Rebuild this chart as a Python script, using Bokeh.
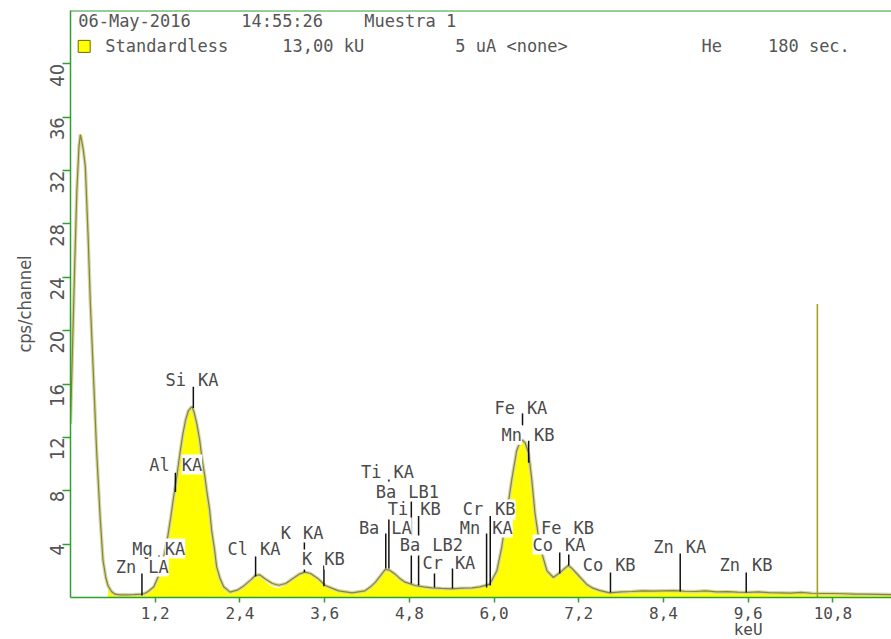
import numpy as np
from bokeh.plotting import figure
from bokeh.models import ColumnDataSource, FixedTicker, CustomJSTickFormatter, Span, Range1d
from bokeh.core.properties import value
from bokeh.embed import file_html
from bokeh.resources import INLINE

# ---------------- data ----------------
energy_keV = [0.00, 0.03, 0.06, 0.09, 0.12, 0.14, 0.16, 0.18, 0.21, 0.25,
              0.28, 0.33, 0.37, 0.42, 0.46, 0.50, 0.53, 0.58, 0.63, 0.70,
              0.80, 0.90, 1.00, 1.05, 1.10, 1.18, 1.27, 1.32, 1.37, 1.42,
              1.46, 1.51, 1.55, 1.59, 1.63, 1.67, 1.72, 1.75, 1.79, 1.83,
              1.86, 1.90, 1.93, 1.97, 2.00, 2.04, 2.07, 2.12, 2.17, 2.26,
              2.36, 2.45, 2.55, 2.62, 2.68, 2.76, 2.86, 2.95, 3.05, 3.15,
              3.24, 3.32, 3.40, 3.51, 3.61, 3.70, 3.80, 3.99, 4.17, 4.25,
              4.32, 4.40, 4.46, 4.52, 4.60, 4.67, 4.74, 4.88, 5.00, 5.12,
              5.26, 5.40, 5.55, 5.69, 5.80, 5.94, 6.04, 6.11, 6.18, 6.25,
              6.32, 6.37, 6.40, 6.44, 6.49, 6.535, 6.58, 6.65, 6.75, 6.84,
              6.94, 7.05, 7.10, 7.17, 7.31, 7.40, 7.50, 7.64, 7.80, 7.95,
              8.10, 8.25, 8.40, 8.55, 8.70, 8.85, 9.00, 9.15, 9.30, 9.45,
              9.60, 9.75, 9.90, 10.05, 10.20, 10.35, 10.50, 10.65, 10.80, 10.95,
              11.10, 11.25, 11.40, 11.63]

counts_cps = [13.0, 19.0, 25.0, 30.5, 33.8, 34.7, 34.2, 33.6, 32.3, 27.0,
              22.2, 16.0, 11.0, 6.0, 2.8, 1.5, 0.9, 0.45, 0.25, 0.2,
              0.2, 0.22, 0.25, 0.3, 0.45, 0.8, 1.9, 3.0, 4.3, 6.0,
              7.5, 9.2, 10.8, 12.2, 13.3, 14.0, 14.3, 13.9, 13.0, 11.8,
              10.5, 9.2, 8.0, 6.6, 5.0, 3.6, 2.3, 1.4, 0.8, 0.4,
              0.55, 0.85, 1.3, 1.6, 1.55, 1.2, 0.8, 0.7, 0.95, 1.35,
              1.75, 1.9, 1.8, 1.4, 0.9, 0.7, 0.5, 0.35, 0.5, 0.8,
              1.15, 1.7, 2.1, 2.05, 1.75, 1.4, 1.15, 0.9, 0.8, 0.72,
              0.68, 0.65, 0.7, 0.72, 0.8, 1.0, 2.0, 3.8, 6.3, 8.8,
              11.0, 11.7, 11.8, 11.6, 10.8, 8.8, 6.3, 3.8, 2.0, 1.5,
              1.9, 2.4, 2.2, 1.8, 1.0, 0.7, 0.52, 0.35, 0.42, 0.45,
              0.5, 0.48, 0.5, 0.52, 0.47, 0.45, 0.5, 0.42, 0.44, 0.4,
              0.38, 0.42, 0.36, 0.35, 0.33, 0.38, 0.32, 0.3, 0.3, 0.28,
              0.26, 0.25, 0.24, 0.22]

outline_cps = [13.0, 19.0, 25.0, 30.5, 33.8, 34.7, 34.2, 33.6, 32.3, 27.0,
               22.2, 16.0, 11.0, 6.0, 2.8, 1.5, 0.9, 0.45, 0.25, 0.2,
               0.2, 0.22, 0.25, 0.3, 0.45, 0.8, 1.9, 3.0, 4.3, 6.0,
               7.5, 9.2, 10.8, 12.2, 13.3, 14.0, 14.3, 13.9, 13.0, 11.8,
               10.5, 9.2, 8.0, 6.6, 5.0, 3.6, 2.3, 1.4, 0.8, 0.4,
               0.55, 0.85, 1.3, 1.65, 1.7, 1.38, 1.05, 0.92, 1.05, 1.42,
               1.75, 1.9, 1.8, 1.4, 0.9, 0.7, 0.5, 0.35, 0.5, 0.8,
               1.15, 1.7, 2.1, 2.05, 1.75, 1.4, 1.15, 0.9, 0.8, 0.72,
               0.68, 0.65, 0.7, 0.72, 0.8, 1.0, 2.0, 3.8, 6.3, 8.8,
               11.0, 11.7, 11.8, 11.6, 10.8, 8.8, 6.3, 3.8, 2.0, 1.5,
               1.9, 2.4, 2.2, 1.8, 1.0, 0.7, 0.52, 0.35, 0.42, 0.45,
               0.5, 0.48, 0.5, 0.52, 0.47, 0.45, 0.5, 0.42, 0.44, 0.4,
               0.38, 0.42, 0.36, 0.35, 0.33, 0.38, 0.32, 0.3, 0.3, 0.28,
               0.26, 0.25, 0.24, 0.22]

marker_element = ["Zn", "Mg", "Al", "Si", "Cl", "K", "K", "Ti", "Ba", "Ba", "Ti",
                  "Ba", "Cr", "Mn", "Cr", "Fe", "Mn", "Fe", "Co", "Co", "Zn", "Zn"]
marker_line = ["LA", "KA", "KA", "KA", "KA", "KA", "KB", "KA", "LB1", "LA", "KB",
               "LB2", "KA", "KA", "KB", "KA", "KB", "KB", "KA", "KB", "KA", "KB"]
marker_keV = [1.012, 1.254, 1.486, 1.740, 2.622, 3.313, 3.590, 4.510, 4.828, 4.466, 4.931,
              5.156, 5.411, 5.894, 5.946, 6.403, 6.490, 7.058, 6.930, 7.649, 8.637, 9.572]
marker_top = [1.8, 3.15, 9.36, 15.8, 3.07, 4.4, 2.4, 8.84, 7.5, 4.8, 6.1,
              3.5, 2.17, 4.8, 6.1, 13.8, 11.75, 4.64, 3.37, 1.87, 3.3, 1.87]
marker_bottom = [0.15, 1.7, 7.9, 14.2, 1.57, 1.9, 0.85, 2.17, 1.05, 2.17, 0.9,
                 0.75, 0.67, 0.75, 0.9, 12.9, 10.1, 2.4, 1.8, 0.37, 0.45, 0.37]

cursor_keV = 10.58
cursor_height = 22.0

x_ticks = [1.2, 2.4, 3.6, 4.8, 6.0, 7.2, 8.4, 9.6, 10.8]
y_ticks = [4, 8, 12, 16, 20, 24, 28, 32, 36, 40]

header_line1 = ["06-May-2016", "14:55:26", "Muestra 1"]
header_line2 = ["Standardless", "13,00 kU", "5 uA <none>", "He", "180 sec."]
x_title = "keU"
x_title_tick = 9.6
y_title = "cps/channel"

# ---------------- layout (positions of annotations) ----------------
label_x = [1.016, 1.25, 1.49, 1.72, 2.60, 3.21, 3.51, 4.49, 4.70, 4.46, 4.87,
           5.04, 5.36, 5.89, 5.93, 6.38, 6.48, 7.04, 6.92, 7.63, 8.63, 9.57]
label_y = [2.32, 3.67, 9.96, 16.3, 3.6, 4.87, 2.85, 9.4, 7.94, 5.24, 6.6,
           3.9, 2.55, 5.24, 6.6, 14.2, 12.2, 5.24, 3.97, 2.4, 3.75, 2.4]
h1_x = [0.109, 2.418, 4.16]
h2_x = [0.493, 3.0, 5.45, 8.94, 9.88]
h1_y = 43.22
h2_y = 41.31

GREEN = "#2f9f2f"
MONO = "DejaVu Sans Mono"
NARROW = "Liberation Sans Narrow, DejaVu Sans Condensed, Roboto, sans-serif"
TXT = "#4a4a4a"

p = figure(frame_width=821, frame_height=587,
           x_range=Range1d(0, 11.63), y_range=Range1d(0, 44),
           output_backend="svg", toolbar_location=None,
           min_border_left=70, min_border_right=0, min_border_top=10, min_border_bottom=40)
p.outline_line_color = None
p.grid.visible = False
p.background_fill_color = "white"
p.border_fill_color = "white"

xa = p.xaxis[0]
xa.ticker = FixedTicker(ticks=x_ticks)
xa.formatter = CustomJSTickFormatter(
    args=dict(title=x_title, at=x_title_tick),
    code="const s = tick.toFixed(1).replace('.', ',');"
         "return Math.abs(tick - at) < 1e-6 ? s + '\\n' + title : s;")
xa.axis_line_color = GREEN
xa.axis_line_width = 1.5
xa.major_tick_line_color = GREEN
xa.major_tick_line_width = 1.5
xa.major_tick_out = 5
xa.major_tick_in = 0
xa.minor_tick_line_color = None
xa.major_label_text_font = MONO
xa.major_label_text_font_size = "16px"
xa.major_label_text_line_height = 0.85
xa.major_label_text_color = TXT
xa.major_label_standoff = 1

ya = p.yaxis[0]
ya.ticker = FixedTicker(ticks=y_ticks)
ya.axis_line_color = GREEN
ya.axis_line_width = 1.5
ya.major_tick_line_color = GREEN
ya.major_tick_line_width = 1.5
ya.major_tick_out = 8
ya.major_tick_in = 0
ya.minor_tick_line_color = None
ya.major_label_orientation = np.pi / 2
ya.major_label_text_font = NARROW
ya.major_label_text_font_size = "20px"
ya.major_label_text_color = "#555555"
ya.major_label_standoff = 5
ya.axis_label = y_title
ya.axis_label_text_font = NARROW
ya.axis_label_text_font_size = "18px"
ya.axis_label_text_font_style = "normal"
ya.axis_label_text_color = "#555555"
ya.axis_label_standoff = 6

p.add_layout(Span(location=44, dimension="width", line_color=GREEN, line_width=2))

# spectrum fill and outline
e_arr = np.array(energy_keV)
c_arr = np.array(counts_cps)
mask = e_arr >= 0.53
fill_src = ColumnDataSource(dict(x=e_arr[mask], y=c_arr[mask]))
p.varea(x="x", y1=0, y2="y", source=fill_src, fill_color="#ffff00")
p.line(energy_keV, outline_cps, line_color="#d4d4bc", line_width=3.5)
p.line(energy_keV, outline_cps, line_color="#8a8a14", line_width=1.2)

# cursor
p.segment(x0=[cursor_keV], y0=[0], x1=[cursor_keV], y1=[cursor_height],
          line_color="#a3a324", line_width=1.6)

# marker lines
p.segment(x0=marker_keV, y0=marker_bottom, x1=marker_keV, y1=marker_top,
          line_color="#111111", line_width=1.5)

lab_src = ColumnDataSource(dict(x=label_x, y=label_y, el=marker_element, ln=marker_line))
p.text(x="x", y="y", text="el", source=lab_src, text_align="right", text_baseline="middle",
       x_offset=-6, text_font=value(MONO), text_font_size="17px", text_color=TXT,
       background_fill_color="white")
p.text(x="x", y="y", text="ln", source=lab_src, text_align="left", text_baseline="middle",
       x_offset=6, text_font=value(MONO), text_font_size="17px", text_color=TXT,
       background_fill_color="white")

# header
p.text(x=h1_x, y=[h1_y] * len(h1_x), text=header_line1, text_align="left", text_baseline="middle",
       text_font=value(MONO), text_font_size="17px", text_color="#555555")
p.text(x=h2_x, y=[h2_y] * len(h2_x), text=header_line2, text_align="left", text_baseline="middle",
       text_font=value(MONO), text_font_size="17px", text_color="#555555")
p.scatter(x=[0.194], y=[h2_y], marker="square", size=12, fill_color="#ffff00",
          line_color="#6b6b00", line_width=1)

open("out.html", "w").write(file_html(p, INLINE))
